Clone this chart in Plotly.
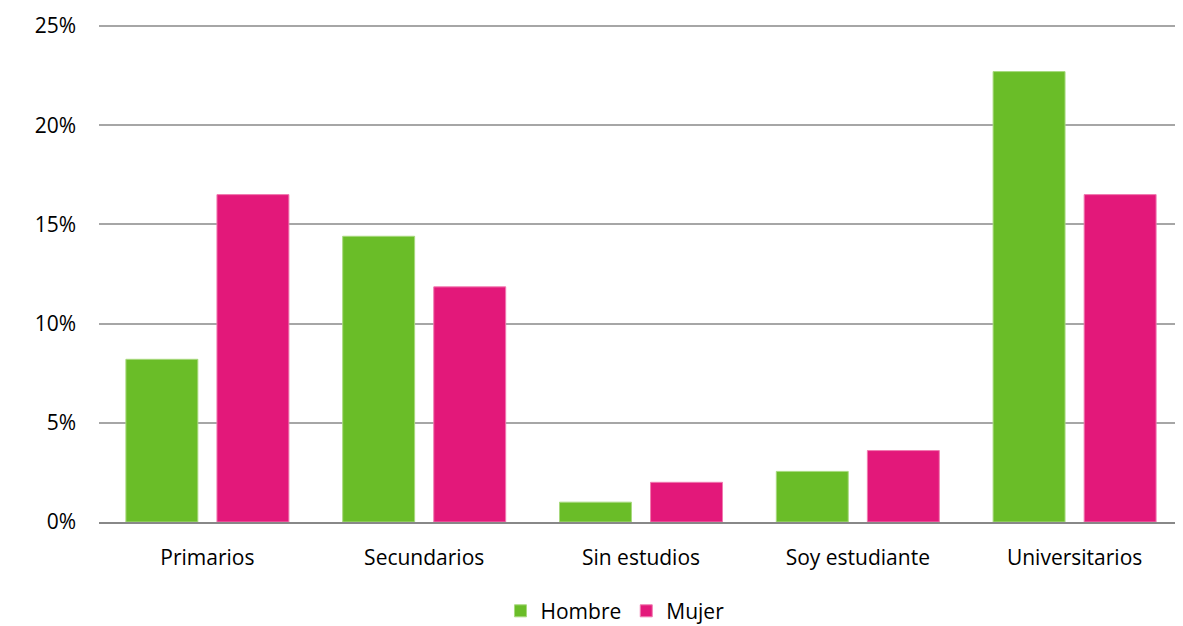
import plotly.graph_objects as go

categories = ["Primarios", "Secundarios", "Sin estudios", "Soy estudiante", "Universitarios"]
hombre = [8.2, 14.4, 1.0, 2.55, 22.7]
mujer = [16.5, 11.85, 2.0, 3.6, 16.5]
tick_vals = [0, 5, 10, 15, 20, 25]
tick_text = ["0%", "5%", "10%", "15%", "20%", "25%"]

fig = go.Figure()
fig.add_trace(go.Bar(name="Hombre", x=categories, y=hombre, marker=dict(color="#6abd28", line=dict(color="#a8d97e", width=1))))
fig.add_trace(go.Bar(name="Mujer", x=categories, y=mujer, marker=dict(color="#e3187a", line=dict(color="#f07ab0", width=1))))

fig.update_layout(
    width=1175, height=618,
    barmode="group", bargap=0.16, bargroupgap=0.21,
    plot_bgcolor="white", paper_bgcolor="white",
    font=dict(family="Open Sans, Liberation Sans, sans-serif", size=21, color="#000000"),
    margin=dict(l=91, r=0, t=12, b=104, autoexpand=False),
    legend=dict(orientation="h", x=0.476, xanchor="center", xref="paper", yref="container", y=0.024, yanchor="middle",
                font=dict(size=21), traceorder="normal"),
    showlegend=True,
)
fig.update_yaxes(range=[0, 25.3], tickvals=tick_vals, ticktext=tick_text, showgrid=True, gridcolor="#a6a6a6", gridwidth=1.5,
                 zeroline=False, showline=False, ticks="", ticklabelstandoff=22)
fig.update_xaxes(showline=True, linecolor="#888888", linewidth=2, ticks="", showgrid=False, ticklabelstandoff=16)

fig.write_html("out.html")
